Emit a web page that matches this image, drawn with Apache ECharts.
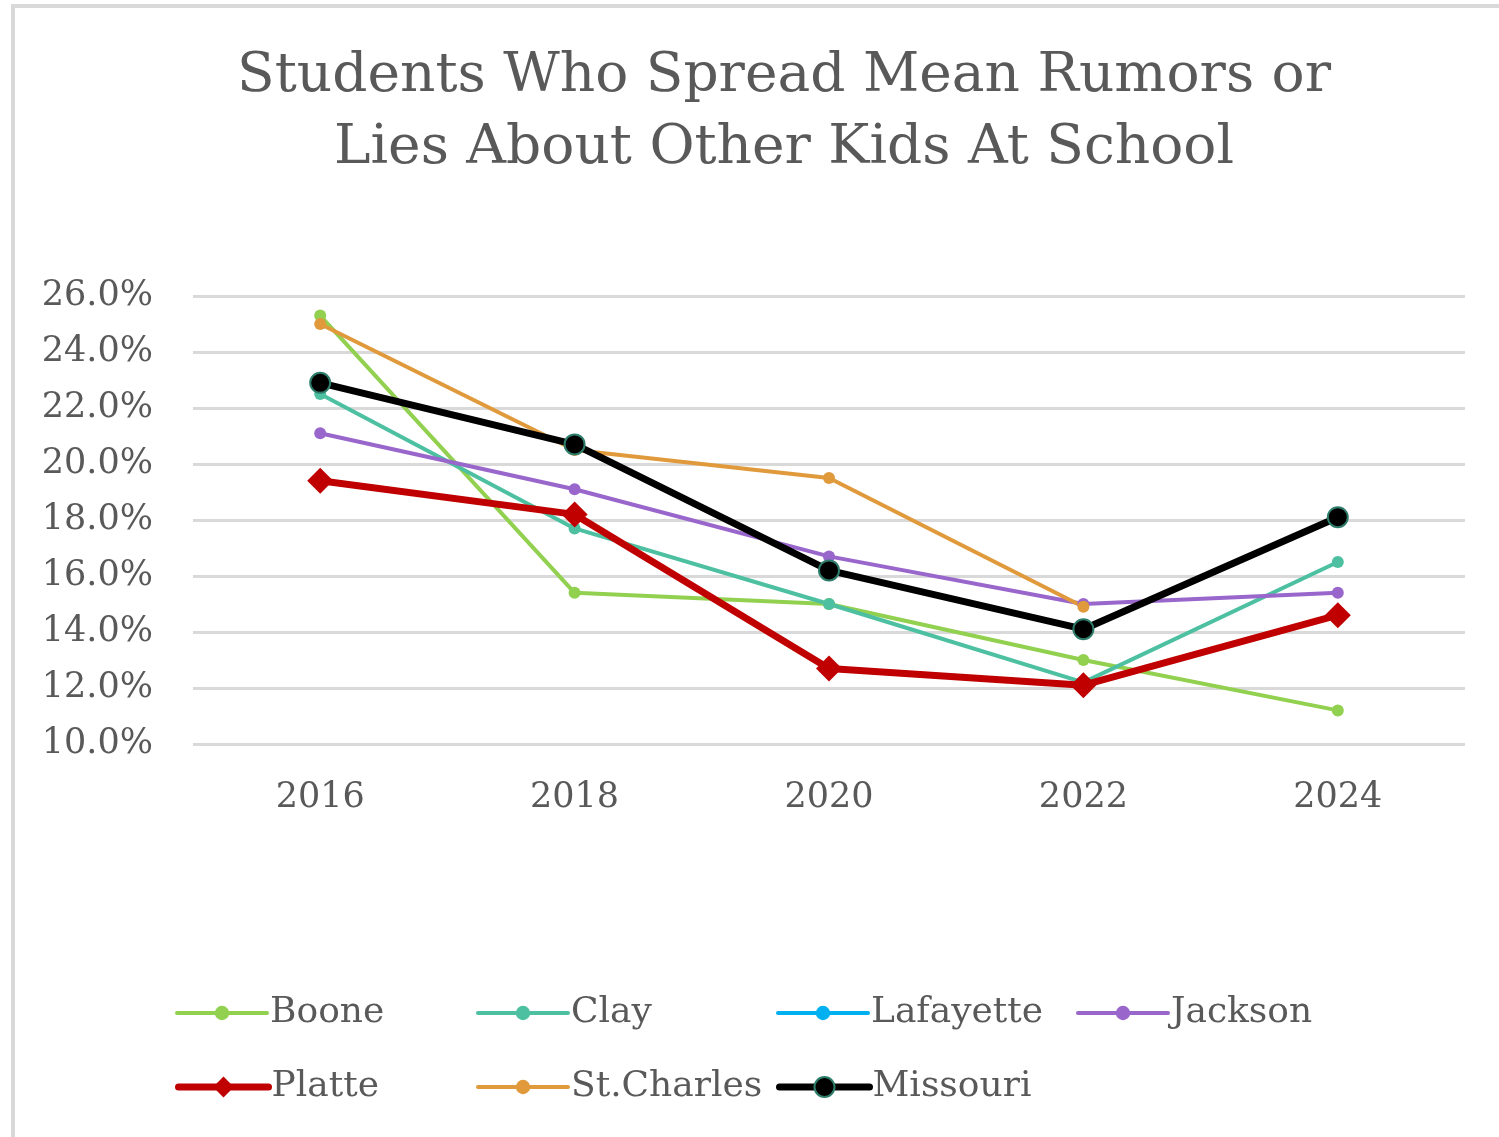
<!DOCTYPE html>
<html>
<head>
<meta charset="utf-8">
<script src="https://cdn.jsdelivr.net/npm/echarts@6/dist/echarts.min.js"></script>
<style>
html,body{margin:0;padding:0;background:#fff;}
#chart{width:1499px;height:1137px;}
</style>
</head>
<body>
<div id="chart"></div>
<script>
const years = ['2016', '2018', '2020', '2022', '2024'];
const boone = [25.3, 15.4, 15.0, 13.0, 11.2];
const clay = [22.5, 17.7, 15.0, 12.2, 16.5];
const lafayette = [null, null, null, null, null];
const jackson = [21.1, 19.1, 16.7, 15.0, 15.4];
const platte = [19.4, 18.2, 12.7, 12.1, 14.6];
const stCharles = [25.0, 20.5, 19.5, 14.9, null];
const missouri = [22.9, 20.7, 16.2, 14.1, 18.1];
const seriesNames = ['Boone', 'Clay', 'Lafayette', 'Jackson', 'Platte', 'St.Charles', 'Missouri'];

const FONT = 'DejaVu Serif';
const TXT = '#595959';

function thin(name, data, color) {
  return {
    name: name, type: 'line', data: data,
    symbol: 'circle', symbolSize: 12,
    lineStyle: {color: color, width: 4},
    itemStyle: {color: color},
    animation: false, z: 2
  };
}
const series = [
  thin('Boone', boone, '#92d050'),
  thin('Clay', clay, '#4cc0a0'),
  thin('Lafayette', lafayette, '#00b0f0'),
  thin('Jackson', jackson, '#9966cc'),
  {
    name: 'Platte', type: 'line', data: platte,
    symbol: 'diamond', symbolSize: 26,
    lineStyle: {color: '#c00000', width: 7},
    itemStyle: {color: '#c00000'},
    animation: false, z: 3
  },
  thin('St.Charles', stCharles, '#e09a3c'),
  {
    name: 'Missouri', type: 'line', data: missouri,
    symbol: 'circle', symbolSize: 20,
    lineStyle: {color: '#000000', width: 7},
    itemStyle: {color: '#000000', borderColor: '#2e7d6b', borderWidth: 2},
    animation: false, z: 4
  }
];

const legendPos = [
  [175, 1010], [476, 1010], [776, 1010], [1076, 1010],
  [175, 1084], [476, 1084], [776, 1084]
];
const legendLineW = [4, 4, 4, 4, 7, 4, 7];
const legendItemH = [18, 18, 18, 18, 26, 18, 25];
const legends = seriesNames.map((n, i) => ({
  data: [n],
  left: legendPos[i][0],
  top: legendPos[i][1] - 16,
  padding: 0,
  itemWidth: 90,
  itemHeight: legendItemH[i],
  itemGap: 0,
  lineStyle: {width: legendLineW[i], cap: 'round'},
  textStyle: {fontFamily: FONT, fontSize: 36, color: TXT, padding: [0, 0, 0, -2], lineHeight: 38},
  selectedMode: false
}));

const chart = echarts.init(document.getElementById('chart'));
chart.setOption({
  backgroundColor: '#ffffff',
  animation: false,
  title: {
    text: 'Students Who Spread Mean Rumors or\nLies About Other Kids At School',
    left: 784, top: 41, textAlign: 'center', padding: 0,
    textStyle: {fontFamily: FONT, fontSize: 55, fontWeight: 'normal', color: TXT, lineHeight: 72}
  },
  graphic: [{
    type: 'rect', shape: {x: 13, y: 6, width: 1600, height: 1300},
    style: {fill: 'none', stroke: '#d9d9d9', lineWidth: 4}, silent: true
  }],
  legend: legends,
  grid: {left: 193, right: 34, top: 296, bottom: 393},
  xAxis: {
    type: 'category', data: years, boundaryGap: true,
    axisLine: {show: false}, axisTick: {show: false},
    axisLabel: {fontFamily: FONT, fontSize: 35, color: TXT, margin: 36}
  },
  yAxis: {
    type: 'value', min: 10, max: 26, interval: 2,
    axisLine: {show: false}, axisTick: {show: false},
    splitLine: {lineStyle: {color: '#d9d9d9', width: 3}},
    axisLabel: {fontFamily: FONT, fontSize: 35, color: TXT, margin: 40,
      formatter: v => v.toFixed(1) + '%'}
  },
  series: series
});
</script>
</body>
</html>
